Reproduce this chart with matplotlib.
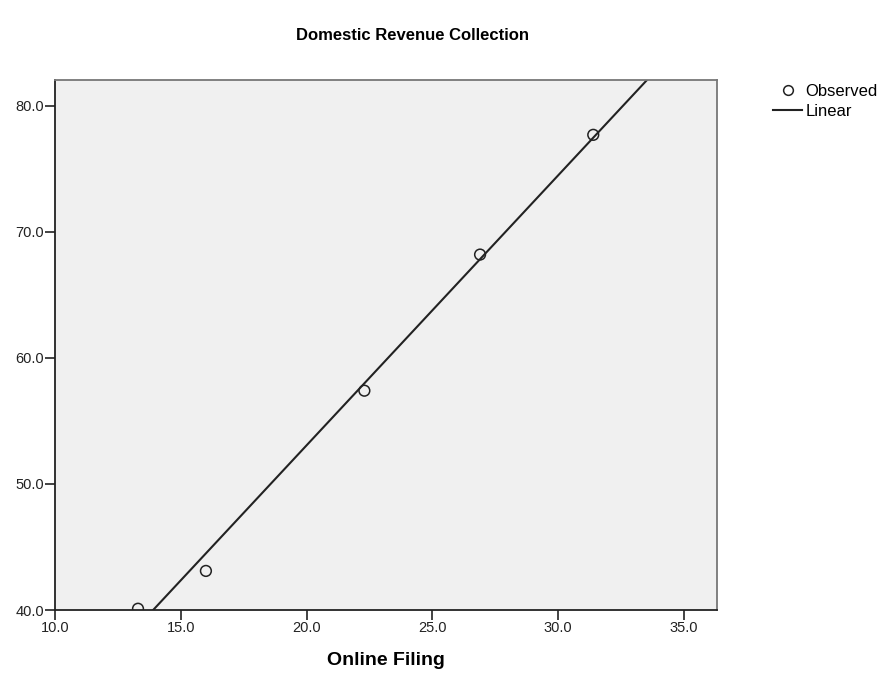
import numpy as np
import matplotlib
matplotlib.use("Agg")
import matplotlib.pyplot as plt
from matplotlib.lines import Line2D

plt.rcParams['font.family'] = ['Liberation Sans', 'DejaVu Sans']

# Observed values
online_filing = np.array([13.3, 16.0, 22.3, 26.9, 31.4])
revenue = np.array([40.1, 43.1, 57.4, 68.2, 77.7])

x_ticks = [10.0, 15.0, 20.0, 25.0, 30.0, 35.0]
y_ticks = [40.0, 50.0, 60.0, 70.0, 80.0]

# Linear fit
slope, intercept = np.polyfit(online_filing, revenue, 1)

fig = plt.figure(figsize=(8.84, 6.82), dpi=100)
ax = fig.add_axes([55/884, 1 - 610/682, (716.5 - 55)/884, (610 - 80)/682])
ax.set_facecolor('#F0F0F0')

xlim = (10.0, 36.3)
ylim = (40.0, 82.05)
ax.set_xlim(*xlim)
ax.set_ylim(*ylim)

xs = np.linspace(xlim[0], xlim[1], 200)
ax.plot(xs, slope * xs + intercept, color='#222222', lw=1.5, zorder=2)
ax.scatter(online_filing, revenue, s=60, facecolors='none', edgecolors='#222222',
           linewidths=1.1, zorder=3)

ax.set_xticks(x_ticks)
ax.set_yticks(y_ticks)
ax.set_xticklabels([f"{v:.1f}" for v in x_ticks])
ax.set_yticklabels([f"{v:.1f}" for v in y_ticks])
ax.tick_params(axis='both', direction='out', length=7, width=1.2, colors='#222222',
               labelsize=10.5, pad=1)

for side in ['left', 'bottom']:
    ax.spines[side].set_color('#222222')
    ax.spines[side].set_linewidth(1.3)
for side in ['top', 'right']:
    ax.spines[side].set_color('#777777')
    ax.spines[side].set_linewidth(1.3)

ax.set_xlabel('Online Filing', fontsize=14, fontweight='bold', labelpad=12)

fig.text(412/884, 1 - 36/682, 'Domestic Revenue Collection', ha='center', va='center',
         fontsize=12, fontweight='bold')

handles = [
    Line2D([], [], marker='o', linestyle='none', markerfacecolor='none',
           markeredgecolor='#222222', markersize=7, markeredgewidth=1.1),
    Line2D([], [], color='#222222', lw=1.5),
]
fig.legend(handles, ['Observed', 'Linear'], loc='upper left',
           bbox_to_anchor=(773/884, 1 - 84/682), frameon=False, fontsize=12,
           handlelength=1.75, handletextpad=0.2, labelspacing=0.3, borderpad=0,
           borderaxespad=0)

fig.savefig('out.png', dpi=100)
